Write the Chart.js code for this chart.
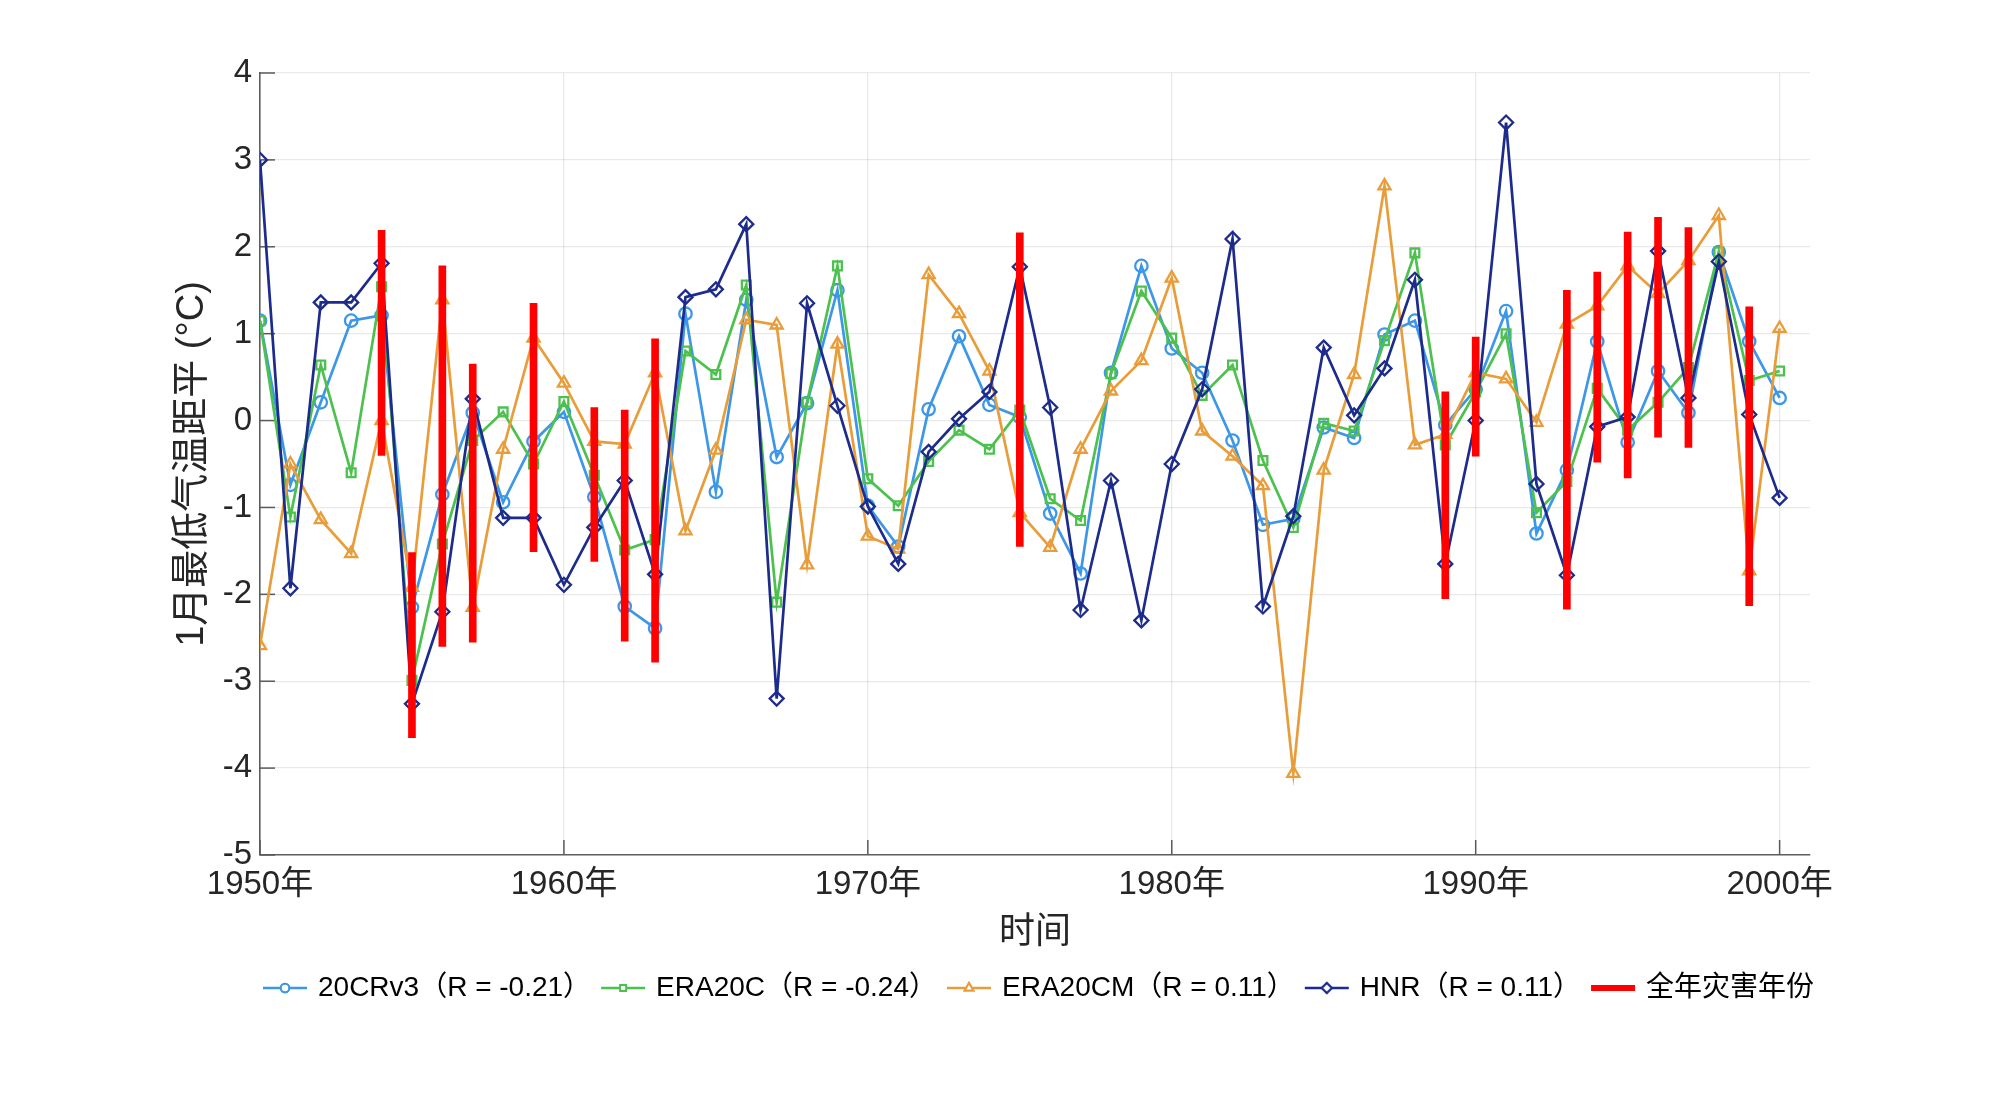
<!DOCTYPE html>
<html>
<head>
<meta charset="utf-8">
<script src="https://cdn.jsdelivr.net/npm/chart.js@4.4.1/dist/chart.umd.min.js"></script>
<style>
html,body{margin:0;padding:0;background:#fff;}
#wrap{width:2000px;height:1109px;}
</style>
</head>
<body>
<div id="wrap"><canvas id="c" width="2000" height="1109"></canvas></div>
<script>
const years = [1950,1951,1952,1953,1954,1955,1956,1957,1958,1959,
  1960,1961,1962,1963,1964,1965,1966,1967,1968,1969,
  1970,1971,1972,1973,1974,1975,1976,1977,1978,1979,
  1980,1981,1982,1983,1984,1985,1986,1987,1988,1989,
  1990,1991,1992,1993,1994,1995,1996,1997,1998,1999,2000];

const s20CRv3 = [1.15,-0.74,0.21,1.15,1.21,-2.15,-0.85,0.09,-0.94,-0.24,
  0.10,-0.88,-2.14,-2.39,1.23,-0.82,1.39,-0.42,0.20,1.50,
  -0.98,-1.45,0.13,0.97,0.18,0.04,-1.07,-1.76,0.55,1.78,
  0.83,0.55,-0.23,-1.20,-1.13,-0.08,-0.20,0.99,1.15,-0.05,
  0.36,1.26,-1.30,-0.57,0.91,-0.25,0.57,0.09,1.94,0.91,0.26];

const sERA20C = [1.15,-1.11,0.64,-0.60,1.54,-2.99,-1.42,-0.23,0.10,-0.50,
  0.22,-0.63,-1.49,-1.37,0.80,0.53,1.56,-2.09,0.21,1.78,
  -0.67,-0.98,-0.47,-0.11,-0.33,0.12,-0.90,-1.15,0.54,1.49,
  0.95,0.29,0.64,-0.46,-1.23,-0.03,-0.12,0.92,1.93,-0.28,
  0.33,1.00,-1.06,-0.70,0.37,-0.11,0.21,0.61,1.94,0.46,0.57];

const sERA20CM = [-2.59,-0.50,-1.14,-1.53,0.00,-1.92,1.39,-2.15,-0.33,0.95,
  0.43,-0.24,-0.27,0.55,-1.27,-0.34,1.16,1.10,-1.66,0.88,
  -1.33,-1.48,1.68,1.23,0.57,-1.06,-1.46,-0.33,0.34,0.69,
  1.64,-0.12,-0.41,-0.75,-4.06,-0.57,0.53,2.70,-0.28,-0.16,
  0.55,0.48,-0.02,1.11,1.32,1.78,1.46,1.84,2.36,-1.73,1.06];

const sHNR = [3.00,-1.93,1.36,1.36,1.81,-3.26,-2.20,0.25,-1.12,-1.12,
  -1.89,-1.23,-0.69,-1.77,1.42,1.51,2.26,-3.20,1.35,0.17,
  -0.99,-1.65,-0.36,0.02,0.33,1.77,0.15,-2.18,-0.69,-2.30,
  -0.50,0.36,2.09,-2.14,-1.10,0.84,0.06,0.60,1.62,-1.65,
  0.00,3.43,-0.73,-1.78,-0.07,0.04,1.95,0.26,1.83,0.07,-0.89];

const disasterYears = [1954,1955,1956,1957,1959,1961,1962,1963,1975,1989,1990,1993,1994,1995,1996,1997,1999];
const disasterLow  = [-0.40,-3.65,-2.60,-2.55,-1.51,-1.62,-2.54,-2.78,-1.45,-2.05,-0.41,-2.17,-0.48,-0.66,-0.19,-0.31,-2.13];
const disasterHigh = [2.19,-1.52,1.78,0.65,1.35,0.15,0.12,0.94,2.16,0.33,0.96,1.50,1.71,2.17,2.34,2.22,1.31];

const seriesLabels = ['20CRv3（R = -0.21）','ERA20C（R = -0.24）','ERA20CM（R = 0.11）','HNR（R = 0.11）'];
const disasterLabel = '全年灾害年份';
const xTickYears = [1950,1960,1970,1980,1990,2000];
const yTicks = [-5,-4,-3,-2,-1,0,1,2,3,4];
const yTitle = '1月最低气温距平 (°C)';
const xTitle = '时间';

const FONT = '"Liberation Sans", Arial, "Noto Sans CJK SC", sans-serif';
const COLORS = ['#3d97e8','#4cc14e','#e89d3a','#1c2b8c'];
const STYLES = ['circle','rect','triangle','rectRot'];
const RADII = [6.2,6.2,7,7];

function makeIcon(color, style, r, lw) {
  const c = document.createElement('canvas');
  c.width = 46; c.height = 20;
  const g = c.getContext('2d');
  g.strokeStyle = color; g.lineWidth = lw;
  g.beginPath(); g.moveTo(1,10); g.lineTo(45,10); g.stroke();
  if (style) {
    g.lineWidth = 2;
    g.fillStyle = '#fff';
    Chart.helpers.drawPoint(g, {pointStyle: style, radius: r, borderWidth: 2}, 23, 10);
    g.fill(); g.stroke();
  }
  return c;
}

const seriesData = [s20CRv3, sERA20C, sERA20CM, sHNR];
const lineSets = seriesData.map((s, k) => ({
  type: 'line',
  label: seriesLabels[k],
  data: years.map((yr, i) => ({x: yr, y: s[i]})),
  borderColor: COLORS[k],
  borderWidth: 2.7,
  pointStyle: STYLES[k],
  pointRadius: RADII[k],
  pointBorderWidth: 2.3,
  pointBorderColor: COLORS[k],
  pointBackgroundColor: 'rgba(0,0,0,0)',
  tension: 0,
  order: 4 - k,
  legendIcon: makeIcon(COLORS[k], STYLES[k], RADII[k] - 2, 2.4)
}));

const barSet = {
  type: 'bar',
  label: disasterLabel,
  data: disasterYears.map((yr, i) => ({x: yr, y: [disasterLow[i], disasterHigh[i]]})),
  backgroundColor: '#ff0000',
  borderWidth: 0,
  barThickness: 7,
  grouped: false,
  order: 0,
  legendIcon: makeIcon('#ff0000', null, 0, 6)
};

const inwardTicks = {
  id: 'inwardTicks',
  beforeDatasetsDraw(chart) {
    const {ctx, chartArea: a, scales: {x, y}} = chart;
    ctx.save();
    ctx.strokeStyle = '#5a5a5a';
    ctx.lineWidth = 1.5;
    xTickYears.forEach(v => {
      const px = x.getPixelForValue(v);
      ctx.beginPath(); ctx.moveTo(px, a.bottom); ctx.lineTo(px, a.bottom - 15); ctx.stroke();
    });
    yTicks.forEach(v => {
      const py = y.getPixelForValue(v);
      ctx.beginPath(); ctx.moveTo(a.left, py); ctx.lineTo(a.left + 15, py); ctx.stroke();
    });
    ctx.restore();
  }
};

const legendOrder = [1, 2, 3, 4, 0];

new Chart(document.getElementById('c'), {
  type: 'line',
  data: { datasets: [barSet, ...lineSets] },
  plugins: [inwardTicks],
  options: {
    responsive: false,
    animation: false,
    devicePixelRatio: 1,
    layout: { padding: { left: 170, right: 90, top: 73, bottom: 97 } },
    plugins: {
      tooltip: { enabled: false },
      legend: {
        position: 'bottom',
        labels: {
          font: { size: 28, family: FONT },
          color: '#000',
          usePointStyle: true,
          pointStyleWidth: 38,
          boxHeight: 20,
          padding: 13,
          generateLabels(chart) {
            return legendOrder.map(i => {
              const ds = chart.data.datasets[i];
              return { text: ds.label, pointStyle: ds.legendIcon, fillStyle: 'rgba(0,0,0,0)',
                       strokeStyle: 'rgba(0,0,0,0)', lineWidth: 0, hidden: false, datasetIndex: i,
                       fontColor: '#000' };
            });
          }
        }
      }
    },
    scales: {
      x: {
        type: 'linear',
        min: 1950, max: 2001,
        offset: false,
        afterBuildTicks(s) { s.ticks = xTickYears.map(v => ({value: v})); },
        afterFit(s) { s.height = 106; },
        ticks: {
          font: { size: 33, family: FONT }, color: '#262626', padding: 10,
          maxRotation: 0, autoSkip: false,
          callback: v => v + '年'
        },
        grid: { color: 'rgba(38,38,38,0.10)', lineWidth: 1.3, drawTicks: false, offset: false },
        border: { display: true, color: '#5e5e5e', width: 1.6 },
        title: { display: true, text: xTitle, font: { size: 36, family: FONT }, color: '#262626', padding: { top: 2, bottom: 6 } }
      },
      y: {
        type: 'linear',
        min: -5, max: 4,
        afterBuildTicks(s) { s.ticks = yTicks.map(v => ({value: v})); },
        afterFit(s) { s.width = 90; },
        ticks: { font: { size: 33, family: FONT }, color: '#262626', padding: 8 },
        grid: { color: 'rgba(38,38,38,0.10)', lineWidth: 1.3, drawTicks: false },
        border: { display: true, color: '#5e5e5e', width: 1.6 },
        title: { display: true, text: yTitle, font: { size: 38, family: FONT }, color: '#262626', padding: { top: 0, bottom: 0 } }
      },
      yR: {
        type: 'linear',
        position: 'right',
        display: true,
        afterFit(s) { s.width = 100; },
        ticks: { display: false },
        grid: { display: false, drawTicks: false },
        border: { display: false }
      }
    }
  }
});
</script>
</body>
</html>
